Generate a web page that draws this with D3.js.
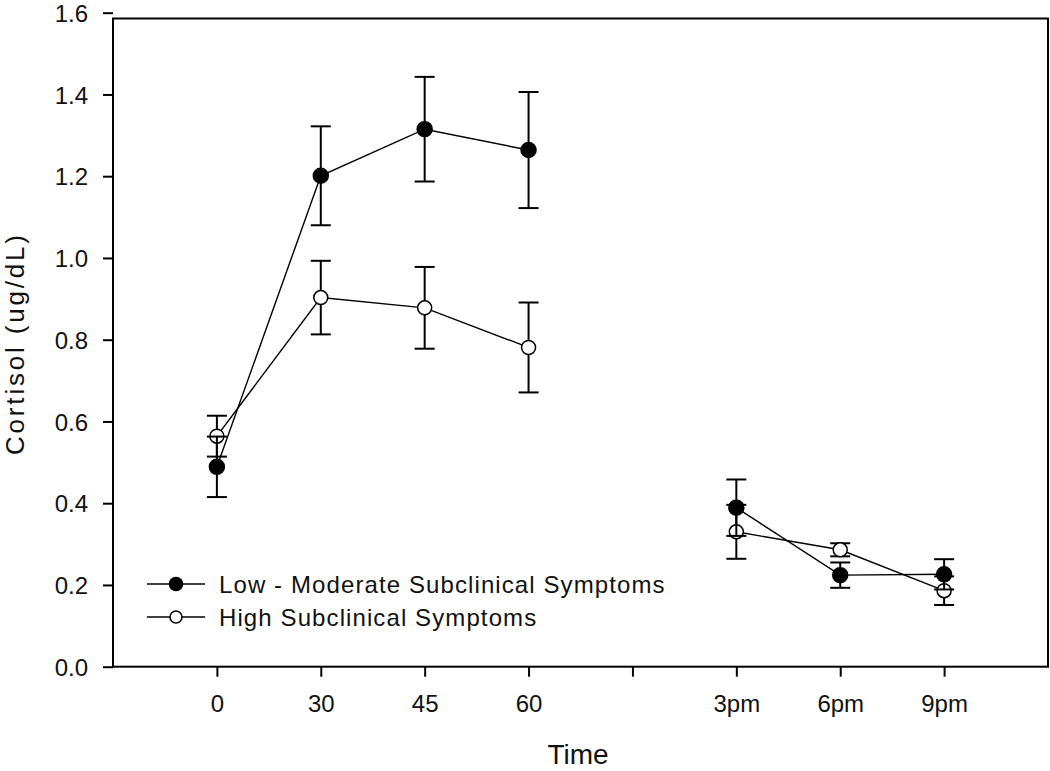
<!DOCTYPE html>
<html>
<head>
<meta charset="utf-8">
<script src="https://cdn.jsdelivr.net/npm/d3@7"></script>
<style>
  html, body { margin: 0; padding: 0; background: #fff; }
  svg { display: block; font-family: "Liberation Sans", Arial, sans-serif; }
</style>
</head>
<body>
<svg id="chart" width="1050" height="771"></svg>
<script>
// ---- data ----
const categories = ["0", "30", "45", "60", "", "3pm", "6pm", "9pm"];
const lowMean  = [0.489, 1.201, 1.315, 1.264, null, 0.389, 0.224, 0.226];
const lowErr   = [0.074, 0.121, 0.128, 0.142, null, 0.069, 0.031, 0.037];
const highMean = [0.564, 0.903, 0.878, 0.781, null, 0.330, 0.286, 0.186];
const highErr  = [0.050, 0.090, 0.100, 0.110, null, 0.066, 0.016, 0.035];
const yTicks   = [0, 0.2, 0.4, 0.6, 0.8, 1.0, 1.2, 1.4, 1.6];
const seriesNames = ["Low - Moderate Subclinical Symptoms", "High Subclinical Symptoms"];
const xTitle = "Time";
const yTitle = "Cortisol (ug/dL)";

// ---- layout ----
const svg = d3.select("#chart");
const frame = { left: 113, right: 1048, top: 18.5, bottom: 666.7 };
const x = d3.scaleLinear().domain([-1, categories.length]).range([frame.left, frame.right]);
const y = d3.scaleLinear().domain([0, 1.6]).range([666.7, 12.7]);

const makeSeries = (m, e) => m.map((v, i) => ({ i, v, e: e[i] }));
const low = makeSeries(lowMean, lowErr);
const high = makeSeries(highMean, highErr);

// frame
svg.append("rect")
  .attr("x", frame.left).attr("y", frame.top)
  .attr("width", frame.right - frame.left).attr("height", frame.bottom - frame.top)
  .attr("fill", "none").attr("stroke", "#000").attr("stroke-width", 2);

// y axis
const yAxis = d3.axisLeft(y).tickValues(yTicks).tickSize(10).tickPadding(15)
  .tickFormat(d3.format(".1f"));
const gy = svg.append("g").attr("transform", `translate(${frame.left},0)`).call(yAxis);
gy.select(".domain").remove();
gy.selectAll(".tick line").attr("stroke", "#000").attr("stroke-width", 2);
gy.selectAll(".tick text").attr("font-size", 24).attr("fill", "#111")
  .attr("font-family", "'Liberation Sans', Arial, sans-serif").attr("dy", "0.36em");

// x axis
const xAxis = d3.axisBottom(x).tickValues(d3.range(categories.length)).tickSize(10).tickPadding(18)
  .tickFormat(i => categories[i]);
const gx = svg.append("g").attr("transform", `translate(0,${frame.bottom})`).call(xAxis);
gx.select(".domain").remove();
gx.selectAll(".tick line").attr("stroke", "#000").attr("stroke-width", 2);
gx.selectAll(".tick text").attr("font-size", 24).attr("fill", "#111")
  .attr("font-family", "'Liberation Sans', Arial, sans-serif").attr("dy", "0.72em");

// axis titles
svg.append("text").attr("x", 578).attr("y", 764).attr("text-anchor", "middle")
  .attr("font-size", 28).attr("fill", "#111").text(xTitle);
svg.append("text").attr("transform", "translate(24,345) rotate(-90)")
  .attr("text-anchor", "middle").attr("font-size", 26).attr("fill", "#111")
  .attr("textLength", 220).attr("lengthAdjust", "spacing").text(yTitle);

const line = d3.line().defined(d => d.v != null).x(d => x(d.i)).y(d => y(d.v));

function drawSeries(data, filled) {
  const g = svg.append("g");
  g.append("path").datum(data).attr("d", line)
    .attr("fill", "none").attr("stroke", "#000").attr("stroke-width", 1.4);
  const pts = data.filter(d => d.v != null);
  const eb = g.selectAll("g.eb").data(pts).enter().append("g")
    .attr("stroke", "#000").attr("stroke-width", 2);
  eb.append("line").attr("x1", d => x(d.i)).attr("x2", d => x(d.i))
    .attr("y1", d => y(d.v - d.e)).attr("y2", d => y(d.v + d.e));
  eb.append("line").attr("x1", d => x(d.i) - 10).attr("x2", d => x(d.i) + 10)
    .attr("y1", d => y(d.v + d.e)).attr("y2", d => y(d.v + d.e));
  eb.append("line").attr("x1", d => x(d.i) - 10).attr("x2", d => x(d.i) + 10)
    .attr("y1", d => y(d.v - d.e)).attr("y2", d => y(d.v - d.e));
  g.selectAll("circle").data(pts).enter().append("circle")
    .attr("cx", d => x(d.i)).attr("cy", d => y(d.v)).attr("r", filled ? 7.5 : 7)
    .attr("fill", filled ? "#000" : "#fff").attr("stroke", "#000").attr("stroke-width", 1.5);
}
drawSeries(high, false);
drawSeries(low, true);

// legend
const legend = svg.append("g");
[true, false].forEach((filled, k) => {
  const ly = 584 + k * 33;
  legend.append("line").attr("x1", 147).attr("x2", 205).attr("y1", ly).attr("y2", ly)
    .attr("stroke", "#000").attr("stroke-width", 1.5);
  legend.append("circle").attr("cx", 176).attr("cy", ly).attr("r", filled ? 6.5 : 6)
    .attr("fill", filled ? "#000" : "#fff").attr("stroke", "#000").attr("stroke-width", 1.5);
  legend.append("text").attr("x", 219).attr("y", ly).attr("dy", "0.36em")
    .attr("font-size", 24).attr("fill", "#111").attr("letter-spacing", 1.1)
    .text(seriesNames[k]);
});
</script>
</body>
</html>
